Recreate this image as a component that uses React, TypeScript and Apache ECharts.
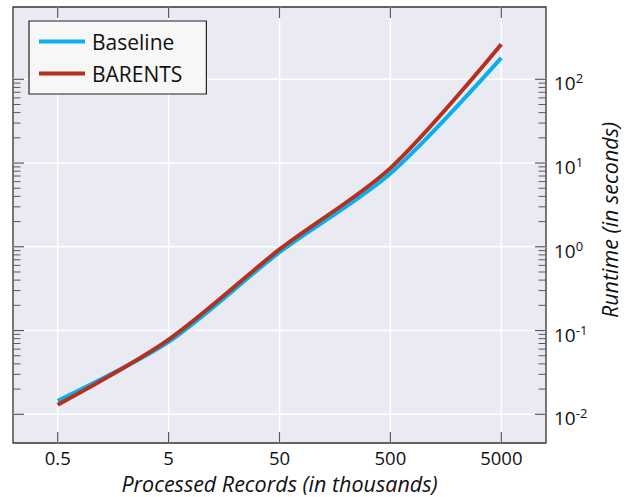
import React, { useEffect, useRef } from "react";
import * as echarts from "echarts";

// ---- data ----
const records = [0.5, 5, 50, 500, 5000];
const baselineRuntime = [0.0145, 0.0735, 0.86, 7.5, 180];
const barentsRuntime = [0.013, 0.078, 0.93, 8.7, 262];

const xTickValues = [0.5, 5, 50, 500, 5000];
const xTickLabels = ["0.5", "5", "50", "500", "5000"];
const yTickValues = [0.01, 0.1, 1, 10, 100];
const yTickExponents = ["-2", "-1", "0", "1", "2"];
const yMinorSteps = [2, 3, 4, 5, 6, 7, 8, 9];
const yMinorDecades = [0.01, 0.1, 1, 10];

const X_MIN = 0.1977;
const X_MAX = 12647;
const Y_MIN = 0.00454;
const Y_MAX = 730;

const FONT = "'Open Sans', 'Noto Sans', sans-serif";
const TICK_COLOR = "#5a5a5a";

export default function App() {
  const ref = useRef<HTMLDivElement>(null);

  useEffect(() => {
    if (!ref.current) return;
    const chart = echarts.init(ref.current, undefined, { renderer: "svg" });

    const minorValues: number[] = [];
    yMinorDecades.forEach((d) => yMinorSteps.forEach((m) => minorValues.push(+(d * m).toPrecision(3))));

    const option: any = {
      animation: false,
      backgroundColor: "#ffffff",
      grid: {
        left: 13,
        top: 7,
        right: 82,
        bottom: 54,
        show: true,
        backgroundColor: "#EAEAF2",
        borderColor: "#333333",
        borderWidth: 1.3,
      },
      xAxis: {
        type: "log",
        min: X_MIN,
        max: X_MAX,
        axisLine: { show: false },
        axisTick: { show: false },
        axisLabel: { show: false },
        splitLine: { show: false },
      },
      yAxis: {
        type: "log",
        position: "right",
        min: Y_MIN,
        max: Y_MAX,
        axisLine: { show: false },
        axisTick: { show: false },
        axisLabel: { show: false },
        splitLine: { show: false },
      },
      legend: {
        data: ["Baseline", "BARENTS"],
        orient: "vertical",
        left: 29,
        top: 21,
        icon: "rect",
        itemWidth: 46,
        itemHeight: 4,
        itemGap: 11,
        padding: [10, 24, 10, 10],
        backgroundColor: "#F7F7F7",
        borderColor: "#222222",
        borderWidth: 1.2,
        borderRadius: 0,
        textStyle: {
          fontFamily: FONT,
          fontSize: 21,
          color: "#111111",
          lineHeight: 20,
          padding: [0, 0, 0, 2],
        },
      },
      graphic: [
        {
          type: "text",
          x: 279.5,
          y: 483,
          z: 10,
          style: {
            text: "Processed Records (in thousands)",
            font: `italic 21.5px ${FONT}`,
            fill: "#111111",
            align: "center",
            verticalAlign: "middle",
            textAlign: "center",
            textVerticalAlign: "middle",
          },
        },
        {
          type: "text",
          x: 609,
          y: 220,
          rotation: Math.PI / 2,
          z: 10,
          style: {
            text: "Runtime (in seconds)",
            font: `italic 21.5px ${FONT}`,
            fill: "#111111",
            align: "center",
            verticalAlign: "middle",
            textAlign: "center",
            textVerticalAlign: "middle",
          },
        },
      ],
      series: [
        {
          type: "custom",
          name: "xgrid",
          z: 1,
          silent: true,
          data: xTickValues.map((v) => [v, 1]),
          renderItem: (params: any, api: any) => {
            const cs = params.coordSys;
            const x = api.coord([api.value(0), 1])[0];
            const top = cs.y;
            const bottom = cs.y + cs.height;
            return {
              type: "group",
              children: [
                { type: "line", shape: { x1: x, y1: top, x2: x, y2: bottom }, style: { stroke: "#ffffff", lineWidth: 1.5 } },
                { type: "line", shape: { x1: x, y1: top, x2: x, y2: top + 11 }, style: { stroke: TICK_COLOR, lineWidth: 1.2 } },
                { type: "line", shape: { x1: x, y1: bottom - 11, x2: x, y2: bottom }, style: { stroke: TICK_COLOR, lineWidth: 1.2 } },
                {
                  type: "text",
                  x: x,
                  y: bottom + 14,
                  style: {
                    text: xTickLabels[params.dataIndex],
                    font: `18.5px ${FONT}`,
                    fill: "#111111",
                    align: "center",
                    verticalAlign: "middle",
                    textAlign: "center",
                    textVerticalAlign: "middle",
                  },
                },
              ],
            };
          },
        },
        {
          type: "custom",
          name: "ygrid",
          z: 1,
          silent: true,
          data: yTickValues.map((v) => [1, v]),
          renderItem: (params: any, api: any) => {
            const cs = params.coordSys;
            const y = api.coord([1, api.value(1)])[1];
            const left = cs.x;
            const right = cs.x + cs.width;
            return {
              type: "group",
              children: [
                { type: "line", shape: { x1: left, y1: y, x2: right, y2: y }, style: { stroke: "#ffffff", lineWidth: 1.5 } },
                { type: "line", shape: { x1: left, y1: y, x2: left + 11, y2: y }, style: { stroke: TICK_COLOR, lineWidth: 1.2 } },
                { type: "line", shape: { x1: right - 11, y1: y, x2: right, y2: y }, style: { stroke: TICK_COLOR, lineWidth: 1.2 } },
                {
                  type: "text",
                  x: right + 8,
                  y: y + 3,
                  style: {
                    text: `{b|10}{s|${yTickExponents[params.dataIndex]}}`,
                    fill: "#111111",
                    align: "left",
                    verticalAlign: "middle",
                    textAlign: "left",
                    textVerticalAlign: "middle",
                    rich: {
                      b: { fontFamily: FONT, fontSize: 19, lineHeight: 21, verticalAlign: "bottom", fill: "#111111", color: "#111111" },
                      s: { fontFamily: FONT, fontSize: 13, lineHeight: 13, verticalAlign: "top", fill: "#111111", color: "#111111" },
                    },
                  },
                },
              ],
            };
          },
        },
        {
          type: "custom",
          name: "yminor",
          z: 1,
          silent: true,
          data: minorValues.map((v) => [1, v]),
          renderItem: (params: any, api: any) => {
            const cs = params.coordSys;
            const y = api.coord([1, api.value(1)])[1];
            const left = cs.x;
            const right = cs.x + cs.width;
            return {
              type: "group",
              children: [
                { type: "line", shape: { x1: left, y1: y, x2: left + 7.5, y2: y }, style: { stroke: TICK_COLOR, lineWidth: 1 } },
                { type: "line", shape: { x1: right - 7.5, y1: y, x2: right, y2: y }, style: { stroke: TICK_COLOR, lineWidth: 1 } },
              ],
            };
          },
        },
        {
          type: "line",
          name: "Baseline",
          z: 3,
          data: records.map((x, i) => [x, baselineRuntime[i]]),
          smooth: 0.3,
          showSymbol: false,
          symbol: "none",
          lineStyle: { color: "#0AB0EC", width: 4 },
          itemStyle: { color: "#0AB0EC" },
        },
        {
          type: "line",
          name: "BARENTS",
          z: 4,
          data: records.map((x, i) => [x, barentsRuntime[i]]),
          smooth: 0.3,
          showSymbol: false,
          symbol: "none",
          lineStyle: { color: "#B5301F", width: 4 },
          itemStyle: { color: "#B5301F" },
        },
      ],
    };

    chart.setOption(option);
    return () => chart.dispose();
  }, []);

  return (
    <div
      ref={ref}
      style={{ position: "absolute", left: 0, top: 0, width: 628, height: 497 }}
    />
  );
}
